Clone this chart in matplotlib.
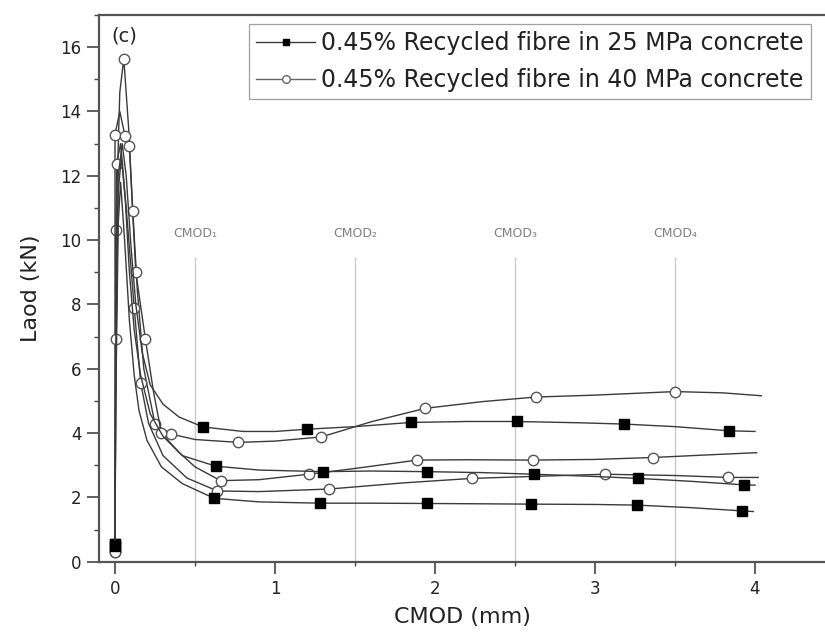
import matplotlib
matplotlib.use("Agg")
import matplotlib.pyplot as plt
from matplotlib.ticker import MultipleLocator

# ---------------- data ----------------
# 25 MPa concrete (filled squares)
s1_x = [0, 0.005, 0.02, 0.045, 0.07, 0.1, 0.13, 0.17, 0.22, 0.3, 0.4, 0.55, 0.8, 1.0, 1.2, 1.5, 1.85, 2.2, 2.51, 2.9, 3.18, 3.5, 3.84, 4.0]
s1_y = [0.55, 6.5, 12.0, 13.0, 12.0, 9.8, 8.0, 6.5, 5.5, 4.9, 4.5, 4.19, 4.05, 4.05, 4.12, 4.2, 4.33, 4.36, 4.36, 4.32, 4.28, 4.2, 4.07, 4.05]
s1_m = [0, 11, 14, 16, 18, 20, 22]

s2_x = [0, 0.005, 0.02, 0.04, 0.065, 0.09, 0.12, 0.16, 0.22, 0.3, 0.42, 0.63, 0.9, 1.3, 1.6, 1.95, 2.3, 2.62, 3.0, 3.27, 3.6, 3.93, 4.0]
s2_y = [0.55, 6.0, 11.5, 12.6, 11.2, 9.0, 7.2, 5.8, 4.6, 3.9, 3.3, 2.97, 2.85, 2.80, 2.82, 2.80, 2.77, 2.72, 2.65, 2.59, 2.5, 2.39, 2.38]
s2_m = [0, 11, 13, 15, 17, 19, 21]

s3_x = [0, 0.005, 0.02, 0.035, 0.06, 0.09, 0.12, 0.15, 0.2, 0.29, 0.42, 0.62, 0.9, 1.28, 1.6, 1.95, 2.3, 2.6, 3.0, 3.26, 3.6, 3.92, 3.99]
s3_y = [0.5, 5.0, 10.5, 11.8, 10.0, 7.5, 5.8, 4.7, 3.77, 2.95, 2.43, 1.97, 1.86, 1.82, 1.82, 1.81, 1.80, 1.79, 1.78, 1.76, 1.68, 1.58, 1.56]
s3_m = [0, 11, 13, 15, 17, 19, 21]

# 40 MPa concrete (open circles)
o1_x = [0, 0.005, 0.03, 0.055, 0.085, 0.11, 0.14, 0.18, 0.25, 0.35, 0.5, 0.77, 1.0, 1.29, 1.6, 1.94, 2.3, 2.63, 3.0, 3.5, 3.8, 4.04]
o1_y = [0.35, 10.3, 14.6, 15.64, 13.5, 11.0, 8.4, 6.0, 4.28, 3.97, 3.8, 3.71, 3.75, 3.88, 4.35, 4.77, 4.98, 5.12, 5.18, 5.29, 5.25, 5.16]
o1_m = [0, 1, 3, 8, 9, 11, 13, 15, 17, 19]

o2_x = [0, 0.0, 0.03, 0.063, 0.09, 0.11, 0.13, 0.19, 0.24, 0.29, 0.4, 0.5, 0.66, 0.9, 1.21, 1.5, 1.89, 2.2, 2.61, 3.0, 3.36, 3.7, 4.01]
o2_y = [0.3, 13.28, 14.0, 13.23, 12.92, 10.92, 9.0, 6.92, 5.3, 4.0, 3.4, 2.95, 2.52, 2.55, 2.72, 2.9, 3.16, 3.17, 3.16, 3.18, 3.24, 3.32, 3.39]
o2_m = [0, 1, 3, 4, 5, 6, 7, 9, 12, 14, 16, 18, 20]

o3_x = [0, 0.005, 0.01, 0.035, 0.07, 0.12, 0.16, 0.21, 0.3, 0.45, 0.64, 0.9, 1.34, 1.8, 2.23, 2.6, 3.06, 3.5, 3.83, 4.02]
o3_y = [0.3, 6.92, 12.37, 13.0, 11.0, 7.9, 5.57, 4.3, 3.3, 2.6, 2.2, 2.18, 2.26, 2.45, 2.59, 2.65, 2.72, 2.68, 2.62, 2.62]
o3_m = [0, 1, 2, 5, 6, 10, 12, 14, 16, 18]

legend_labels = ["0.45% Recycled fibre in 25 MPa concrete",
                 "0.45% Recycled fibre in 40 MPa concrete"]
cmod_pos = [0.5, 1.5, 2.5, 3.5]
cmod_labels = ["CMOD\u2081", "CMOD\u2082", "CMOD\u2083", "CMOD\u2084"]
x_ticks = [0, 1, 2, 3, 4]
y_ticks = [0, 2, 4, 6, 8, 10, 12, 14, 16]

# ---------------- figure ----------------
plt.rcParams['font.family'] = ['DejaVu Sans']
fig = plt.figure(figsize=(8.25, 6.44), dpi=100)
ax = fig.add_axes([99 / 825, 82.3 / 644, 1 - 99 / 825, (561.7 - 15) / 644])

line_c = '#3a3a3a'
sq = dict(color=line_c, lw=1.0, marker='s', markersize=7, markerfacecolor='black',
          markeredgecolor='black')
ci = dict(color=line_c, lw=1.0, marker='o', markersize=7.5, markerfacecolor='white',
          markeredgecolor='#555555', markeredgewidth=1.0)

# reference lines
for p, lab in zip(cmod_pos, cmod_labels):
    ax.plot([p, p], [0, 9.45], color='#c8c8c8', lw=1.0, zorder=1)
    ax.text(p, 10.2, lab, ha='center', va='center', fontsize=9, color='#808080')

ax.plot(o1_x, o1_y, markevery=o1_m, **ci)
ax.plot(o2_x, o2_y, markevery=o2_m, **ci)
ax.plot(o3_x, o3_y, markevery=o3_m, **ci)
ax.plot(s1_x, s1_y, markevery=s1_m, **sq)
ax.plot(s2_x, s2_y, markevery=s2_m, **sq)
ax.plot(s3_x, s3_y, markevery=s3_m, **sq)

# legend handles
lh1, = ax.plot([], [], color=line_c, lw=1.0, marker='s', markersize=5,
               markerfacecolor='black', markeredgecolor='black')
lh2, = ax.plot([], [], color='#666666', lw=1.0, marker='o', markersize=5.5,
               markerfacecolor='white', markeredgecolor='#666666')
leg = ax.legend([lh1, lh2], legend_labels, loc='upper right',
                bbox_to_anchor=(811 / 825, 1 - 24 / 644), bbox_transform=fig.transFigure,
                fontsize=17, frameon=True, fancybox=False, borderaxespad=0,
                handlelength=2.5, handletextpad=0.25, labelspacing=0.55,
                borderpad=0.3)
leg.get_frame().set_edgecolor('#888888')
leg.get_frame().set_linewidth(0.9)
for t in leg.get_texts():
    t.set_color('#222222')

ax.text(0.06, 16.36, "(c)", ha='center', va='center', fontsize=14, color='#222222')

ax.set_xlim(-0.1, (825 - 115) / 160)
ax.set_ylim(0, 17)
ax.set_xticks(x_ticks)
ax.set_yticks(y_ticks)
ax.xaxis.set_minor_locator(MultipleLocator(0.5))
ax.yaxis.set_minor_locator(MultipleLocator(1))
ax.tick_params(axis='both', which='major', direction='out', length=8.5, width=1.2,
               colors='#444444', labelsize=12, labelcolor='#222222')
ax.tick_params(axis='y', which='minor', direction='out', length=3.6, width=1.0, colors='#444444')
ax.tick_params(axis='x', which='minor', direction='out', length=3, width=1.0, colors='#444444')
ax.tick_params(axis='x', which='major', pad=5)
ax.tick_params(axis='y', which='major', pad=4)

for side in ['left', 'bottom', 'top']:
    ax.spines[side].set_color('#555555')
    ax.spines[side].set_linewidth(1.6)
ax.spines['right'].set_visible(False)

ax.set_xlabel("CMOD (mm)", fontsize=16, color='#222222', labelpad=6)
ax.set_ylabel("Laod (kN)", fontsize=16, color='#222222', labelpad=14)

fig.savefig("out.png", dpi=100)
